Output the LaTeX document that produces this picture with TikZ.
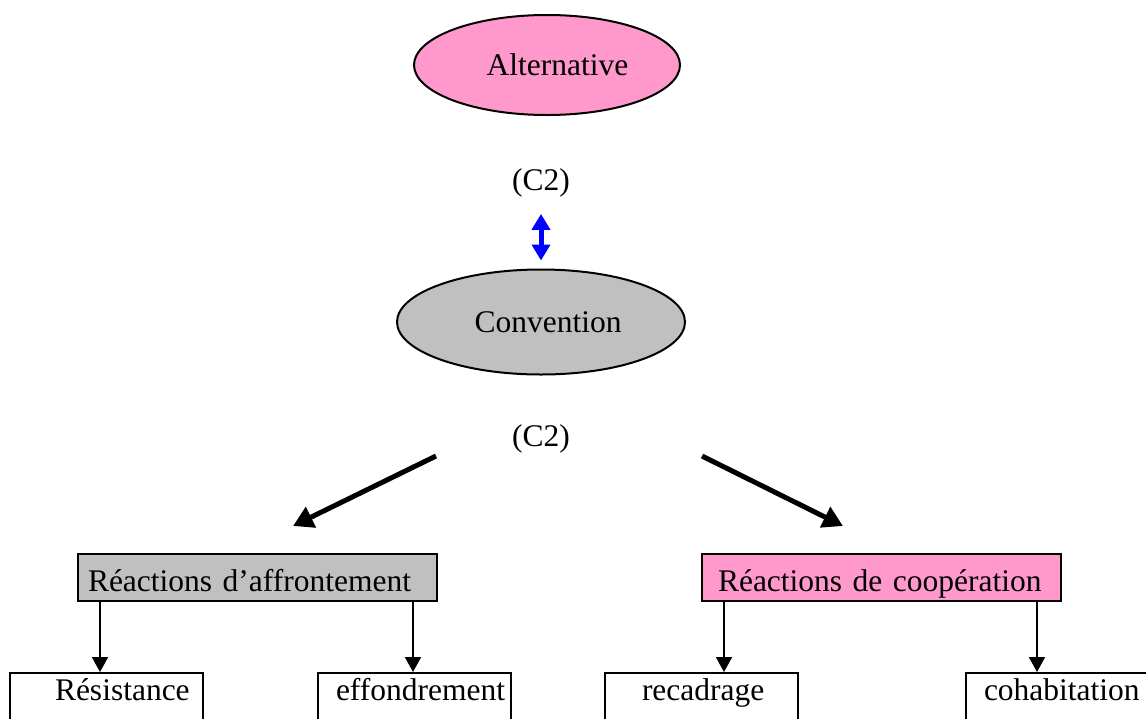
\documentclass[tikz,border=0pt]{standalone}
\usepackage{fontspec}
\setmainfont{Liberation Serif}
\usetikzlibrary{arrows.meta,shapes.geometric}
\definecolor{pinkfill}{HTML}{FF99CC}
\definecolor{grayfill}{HTML}{C0C0C0}
\definecolor{arrowblue}{HTML}{0000FF}
\begin{document}
\begin{tikzpicture}[x=1pt,y=-1pt,
  every node/.style={font=\fontsize{31.5}{36}\selectfont},
  ell/.style={ellipse, draw, line width=2pt, inner sep=0pt, text height=20pt, text depth=0pt},
  lbl/.style={anchor=base, inner sep=0pt},
  topbox/.style={rectangle, draw, line width=2pt, anchor=north west, inner xsep=0pt, inner ysep=0pt,
    text width=359pt, align=left, text height=37pt, text depth=10pt},
  lowbox/.style={rectangle, draw, line width=2pt, anchor=north west, inner xsep=0pt, inner ysep=0pt,
    text width=193pt, align=left, text height=27pt, text depth=32pt},
  dblarrow/.style={draw=arrowblue, line width=5pt, {Triangle[length=16pt,width=18pt]}-{Triangle[length=16pt,width=18pt]}, arrowblue},
  bigarrow/.style={draw, line width=5pt, -{Triangle[length=20pt,width=22pt]}},
  smallarrow/.style={draw, line width=2pt, -{Triangle[length=15pt,width=16pt]}}
]
\useasboundingbox (0,0) rectangle (1146,718);
\clip (0,0) rectangle (1146,718);

% ellipses
\node[ell, fill=pinkfill, minimum width=266pt, minimum height=100pt] (alt) at (547,65) {\hspace*{21pt}Alternative};
\node[ell, fill=grayfill, minimum width=288pt, minimum height=105pt] (conv) at (541,322) {\hspace*{14pt}Convention};

% labels
\node[lbl] (c2a) at (541,190) {(C2)};
\node[lbl] (c2b) at (541,446) {(C2)};

% blue double arrow
\draw[dblarrow, shorten <=17pt, shorten >=8pt] (c2a.south) -- (conv.north);

% middle boxes
\node[topbox, fill=grayfill] (affr) at (77,553) {\hspace*{10pt}Réactions d’affrontement};
\node[topbox, fill=pinkfill] (coop) at (701,553) {\hspace*{16pt}Réactions de coopération};

% diagonal arrows
\coordinate (dl1) at (436,456);
\coordinate (dl2) at (293,526);
\coordinate (dr1) at (702,456);
\coordinate (dr2) at (843,526);
\draw[bigarrow] (dl1) -- (dl2);
\draw[bigarrow] (dr1) -- (dr2);

% bottom boxes
\node[lowbox] (resis) at (9,672) {\hspace*{45pt}Résistance};
\node[lowbox] (effon) at (317,672) {\hspace*{18pt}effondrement};
\node[lowbox] (recad) at (604,672) {\hspace*{37pt}recadrage};
\node[lowbox] (cohab) at (965,672) {\hspace*{18pt}cohabitation};

% vertical arrows
\coordinate (x1) at (100,0);
\coordinate (x2) at (413,0);
\coordinate (x3) at (724,0);
\coordinate (x4) at (1037,0);
\draw[smallarrow] (affr.south -| x1) -- (resis.north -| x1);
\draw[smallarrow] (affr.south -| x2) -- (effon.north -| x2);
\draw[smallarrow] (coop.south -| x3) -- (recad.north -| x3);
\draw[smallarrow] (coop.south -| x4) -- (cohab.north -| x4);
\end{tikzpicture}
\end{document}
